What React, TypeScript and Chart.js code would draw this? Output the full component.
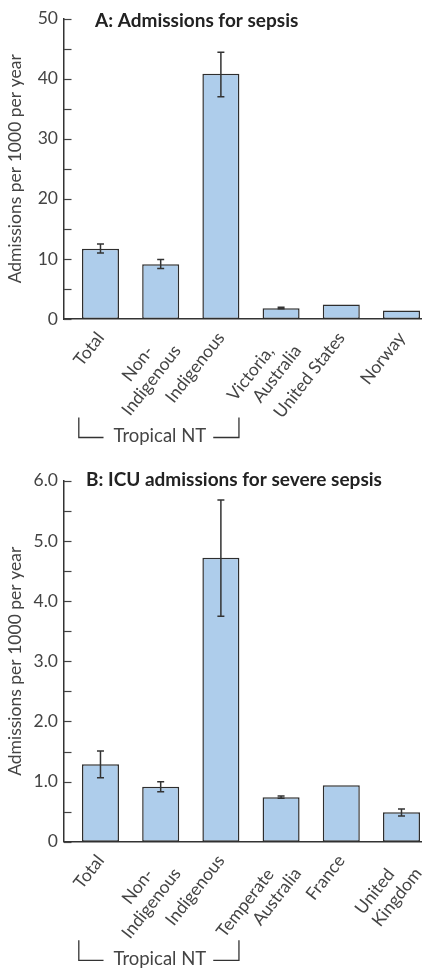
import React, { useEffect, useRef } from 'react';
import { Chart, registerables } from 'chart.js';

Chart.register(...registerables);

const FONT = 'Lato, "Open Sans", sans-serif';

// ---- Panel A data ----
const titleA = 'A: Admissions for sepsis';
const categoriesA = [['Total'], ['Non-', 'Indigenous'], ['Indigenous'], ['Victoria,', 'Australia'], ['United States'], ['Norway']];
const valuesA = [11.7, 9.1, 40.8, 1.8, 2.4, 1.4];
const lowA = [11.0, 8.4, 37.0, 1.7, null, null];
const highA = [12.5, 9.9, 44.4, 1.95, null, null];
const yMaxA = 50;
const yStepA = 5;

// ---- Panel B data ----
const titleB = 'B: ICU admissions for severe sepsis';
const categoriesB = [['Total'], ['Non-', 'Indigenous'], ['Indigenous'], ['Temperate', 'Australia'], ['France'], ['United', 'Kingdom']];
const valuesB = [1.29, 0.915, 4.72, 0.74, 0.94, 0.49];
const lowB = [1.065, 0.83, 3.75, 0.725, null, 0.43];
const highB = [1.51, 1.0, 5.68, 0.76, null, 0.545];
const yMaxB = 6;
const yStepB = 0.5;

const yAxisTitle = 'Admissions per 1000 per year';
const groupLabel = 'Tropical NT';
const groupFrom = -0.36;
const groupTo = 2.3;

const formatA = (v: number) => (v % 10 === 0 ? String(v) : '');
const formatB = (v: number) => (Number.isInteger(v) ? (v === 0 ? '0' : v.toFixed(1)) : '');

// trailing en-spaces so that stacked rotated lines end on the same height
const LINE_PAD = '\u2002\u2002';
const tickLines = (lines: string[]) =>
  lines.length > 1 ? lines.map((s, i) => (i < lines.length - 1 ? s + LINE_PAD : s)) : lines[0];

const extrasPlugin = {
  id: 'panelExtras',
  afterDraw(chart: any, _args: any, opts: any) {
    const { ctx, chartArea, scales } = chart;
    const x = scales.x;
    const y = scales.y;
    ctx.save();
    // inner tick marks on y axis
    ctx.strokeStyle = '#444';
    ctx.lineWidth = 1.2;
    y.ticks.forEach((t: any) => {
      const py = Math.round(y.getPixelForValue(t.value)) + 0.5;
      ctx.beginPath();
      ctx.moveTo(chartArea.left, py);
      ctx.lineTo(chartArea.left + 7.5, py);
      ctx.stroke();
    });
    // error bars
    const meta = chart.getDatasetMeta(0);
    ctx.strokeStyle = '#333';
    ctx.lineWidth = 1.5;
    opts.low.forEach((lo: number | null, i: number) => {
      const hi = opts.high[i];
      if (lo == null || hi == null) return;
      const px = meta.data[i].x;
      const yl = y.getPixelForValue(lo);
      const yh = y.getPixelForValue(hi);
      ctx.beginPath();
      ctx.moveTo(px, yl);
      ctx.lineTo(px, yh);
      ctx.moveTo(px - 3.5, yl);
      ctx.lineTo(px + 3.5, yl);
      ctx.moveTo(px - 3.5, yh);
      ctx.lineTo(px + 3.5, yh);
      ctx.stroke();
    });
    // panel title
    ctx.fillStyle = '#222';
    ctx.font = `bold ${opts.titleSize}px ${FONT}`;
    ctx.textBaseline = 'alphabetic';
    ctx.textAlign = 'left';
    ctx.fillText(opts.title, chartArea.left + opts.titleDx, opts.titleY);
    // group bracket
    const bx0 = x.getPixelForValue(groupFrom);
    const bx1 = x.getPixelForValue(groupTo);
    const top = chartArea.bottom + 98.5;
    const bot = chartArea.bottom + 118.5;
    ctx.font = `18.5px ${FONT}`;
    ctx.fillStyle = '#444';
    ctx.textAlign = 'center';
    const cx = (bx0 + bx1) / 2 + 1;
    const tw = ctx.measureText(groupLabel).width;
    ctx.fillText(groupLabel, cx, bot + 4.5);
    ctx.strokeStyle = '#333';
    ctx.lineWidth = 1.3;
    ctx.beginPath();
    ctx.moveTo(bx0, top);
    ctx.lineTo(bx0, bot);
    ctx.lineTo(cx - tw / 2 - 10, bot);
    ctx.moveTo(cx + tw / 2 + 7, bot);
    ctx.lineTo(bx1, bot);
    ctx.lineTo(bx1, top);
    ctx.stroke();
    ctx.restore();
  },
};

function buildConfig(p: any) {
  return {
    type: 'bar',
    data: {
      datasets: [
        {
          data: p.values.map((v: number, i: number) => ({ x: i, y: v })),
          backgroundColor: '#aecdeb',
          borderColor: '#2e2e2e',
          borderWidth: 1.5,
          borderSkipped: false,
          barPercentage: 0.615,
          categoryPercentage: 1,
        },
      ],
    },
    plugins: [extrasPlugin],
    options: {
      responsive: false,
      animation: false,
      layout: { padding: { top: p.padTop, right: 1, bottom: 0, left: 0 } },
      plugins: {
        legend: { display: false },
        tooltip: { enabled: false },
        panelExtras: {
          low: p.low,
          high: p.high,
          title: p.title,
          titleDx: p.titleDx,
          titleY: p.titleY,
          titleSize: 19,
        },
      },
      scales: {
        x: {
          type: 'linear',
          offset: false,
          min: -0.606,
          max: 5.324,
          afterBuildTicks: (scale: any) => {
            scale.ticks = p.categories.map((_: any, i: number) => ({ value: i }));
          },
          afterFit: (scale: any) => {
            scale.height = p.xHeight;
            scale.paddingLeft = 0;
            scale.paddingRight = 0;
          },
          grid: { display: false, drawTicks: false, offset: false },
          border: { display: true, color: '#333', width: 1.5 },
          ticks: {
            autoSkip: false,
            minRotation: 52,
            maxRotation: 52,
            padding: 9,
            color: '#444',
            font: { family: FONT, size: 17.5 },
            callback: (v: number) => tickLines(p.categories[v]),
          },
        },
        y: {
          min: 0,
          max: p.yMax,
          afterFit: (scale: any) => {
            scale.width = 64;
            scale.paddingTop = 0;
            scale.paddingBottom = 0;
          },
          grid: { display: false, drawTicks: false },
          border: { display: true, color: '#333', width: 1.5 },
          ticks: {
            stepSize: p.yStep,
            autoSkip: false,
            padding: 6,
            color: '#444',
            font: { family: FONT, size: 17.5 },
            callback: (v: number) => p.format(v),
          },
          title: {
            display: true,
            text: yAxisTitle,
            color: '#444',
            font: { family: FONT, size: 17.5 },
            padding: { top: 5, bottom: 0 },
          },
        },
      },
    },
  };
}

function Panel(props: { p: any; width: number; height: number }) {
  const ref = useRef<HTMLCanvasElement>(null);
  useEffect(() => {
    const chart = new Chart(ref.current as HTMLCanvasElement, buildConfig(props.p) as any);
    return () => chart.destroy();
  }, []);
  return <canvas ref={ref} width={props.width} height={props.height} style={{ display: 'block' }} />;
}

const panelA = {
  title: titleA,
  categories: categoriesA,
  values: valuesA,
  low: lowA,
  high: highA,
  yMax: yMaxA,
  yStep: yStepA,
  format: formatA,
  padTop: 18.6,
  xHeight: 151,
  titleDx: 31,
  titleY: 27,
};

const panelB = {
  title: titleB,
  categories: categoriesB,
  values: valuesB,
  low: lowB,
  high: highB,
  yMax: yMaxB,
  yStep: yStepB,
  format: formatB,
  padTop: 10.8,
  xHeight: 126.2,
  titleDx: 22,
  titleY: 15.5,
};

export default function App() {
  return (
    <div style={{ position: 'absolute', left: 0, top: 0, width: 422, height: 968, background: '#fff' }}>
      <Panel p={panelA} width={422} height={470} />
      <Panel p={panelB} width={422} height={498} />
    </div>
  );
}
